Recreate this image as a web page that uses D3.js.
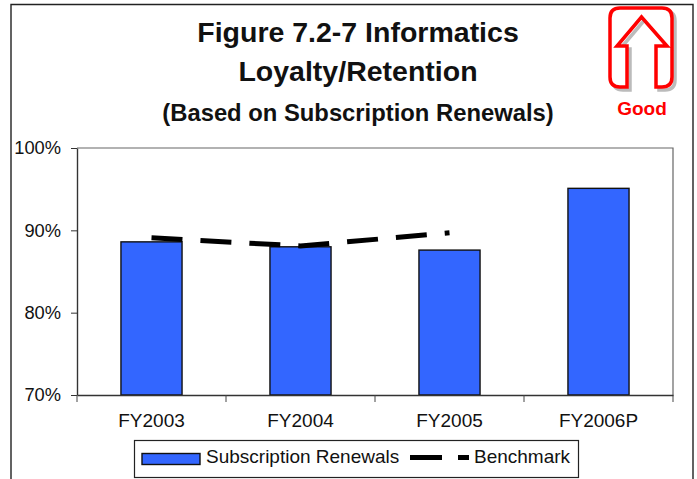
<!DOCTYPE html>
<html><head><meta charset="utf-8">
<script src="https://cdn.jsdelivr.net/npm/d3@7"></script>
<style>html,body{margin:0;padding:0;background:#fff}svg{display:block}text{font-family:"Liberation Sans",Arial,sans-serif;fill:#111}</style>
</head><body><svg id="c" width="697" height="479"></svg>
<script>
const categories=["FY2003","FY2004","FY2005","FY2006P"];
const renewals=[88.6,88.0,87.6,95.1];
const benchmark=[89.1,88.1,89.7];
const yTicks=[70,80,90,100];
const titleLines=["Figure 7.2-7 Informatics","Loyalty/Retention"];
const subtitle="(Based on Subscription Renewals)";
const legendLabels=["Subscription Renewals","Benchmark"];
const goodLabel="Good";

const svg=d3.select("#c");
const L=77,R=673,T=148,B=395;
const x=d3.scaleBand().domain(categories).range([L,R]).paddingInner(0.59).paddingOuter(0.295);
const y=d3.scaleLinear().domain([70,100]).range([B,T]);
const xc=d=>x(d)+x.bandwidth()/2;

// outer frame
svg.append("path").attr("d","M11,479V4.5H693V479").attr("fill","none").attr("stroke","#222").attr("stroke-width",1.4);

// titles
svg.selectAll("text.t").data(titleLines).join("text").attr("class","t")
 .attr("x",358).attr("y",(d,i)=>42+i*39).attr("text-anchor","middle")
 .style("font-size","28.5px").style("font-weight","bold").text(d=>d);
svg.append("text").attr("x",358).attr("y",121).attr("text-anchor","middle")
 .style("font-size","23.8px").style("font-weight","bold").text(subtitle);

// good arrow
const arrow="M627,87 H620 Q610,87 610,77 V18 Q610,8 620,8 H662 Q672,8 672,18 V77 Q672,87 662,87 H656 V46 H667 L641.5,17 L617,46 H627 Z";
svg.append("path").attr("d",arrow).attr("fill","none").attr("stroke","#bbb").attr("stroke-width",3.5).attr("transform","translate(3,3)");
svg.append("path").attr("d",arrow).attr("fill","#fff").attr("stroke","#f00").attr("stroke-width",3.5);
svg.append("text").attr("x",642).attr("y",115).attr("text-anchor","middle")
 .style("font-size","19px").style("font-weight","bold").style("fill","#f00").text(goodLabel);

// plot frame top/right
svg.append("path").attr("d",`M${L},${T}H${R}V${B+7}`).attr("fill","none").attr("stroke","#666").attr("stroke-width",1.2);

// bars
svg.selectAll("rect.b").data(categories).join("rect").attr("class","b")
 .attr("x",d=>x(d)).attr("width",x.bandwidth())
 .attr("y",(d,i)=>y(renewals[i])).attr("height",(d,i)=>B-y(renewals[i]))
 .attr("fill","#3366ff").attr("stroke","#111").attr("stroke-width",1.4);

// benchmark
const line=d3.line().x((d,i)=>xc(categories[i])).y(d=>y(d));
svg.append("path").attr("d",line(benchmark)).attr("fill","none").attr("stroke","#000")
 .attr("stroke-width",5).attr("stroke-dasharray","31 18");

// axes
const ya=d3.axisLeft(y).tickValues(yTicks).tickFormat(d=>d+"%").tickSize(6).tickPadding(10).tickSizeOuter(0);
const yg=svg.append("g").attr("transform",`translate(${L},0)`).call(ya);
const xa=d3.axisBottom(x).tickSize(0).tickPadding(19);
const xg=svg.append("g").attr("transform",`translate(0,${B})`).call(xa);
yg.selectAll("text").style("font-size","18.3px");
xg.selectAll("text").style("font-size","19px");
[yg,xg].forEach(g=>{g.select(".domain").attr("stroke","#333").attr("stroke-width",1.4);g.selectAll("line").attr("stroke","#333");g.selectAll("text").attr("fill","#111");g.attr("font-family",null)});
xg.selectAll(".sep").data(d3.range(4)).join("line").attr("class","sep")
 .attr("x1",i=>L+i*x.step()).attr("x2",i=>L+i*x.step()).attr("y1",0).attr("y2",7).attr("stroke","#444");

// legend
const lg=svg.append("g");
lg.append("rect").attr("x",134.5).attr("y",440.5).attr("width",444).attr("height",37).attr("fill","#fff").attr("stroke","#222").attr("stroke-width",1.2);
lg.append("rect").attr("x",142).attr("y",453.5).attr("width",58).attr("height",11).attr("fill","#3366ff").attr("stroke","#111").attr("stroke-width",1.4);
lg.append("text").attr("x",206).attr("y",463).style("font-size","19px").text(legendLabels[0]);
lg.append("line").attr("x1",410).attr("x2",469).attr("y1",457.5).attr("y2",457.5).attr("stroke","#000").attr("stroke-width",5).attr("stroke-dasharray","32 16");
lg.append("text").attr("x",474).attr("y",463).style("font-size","19px").text(legendLabels[1]);
</script></body></html>
